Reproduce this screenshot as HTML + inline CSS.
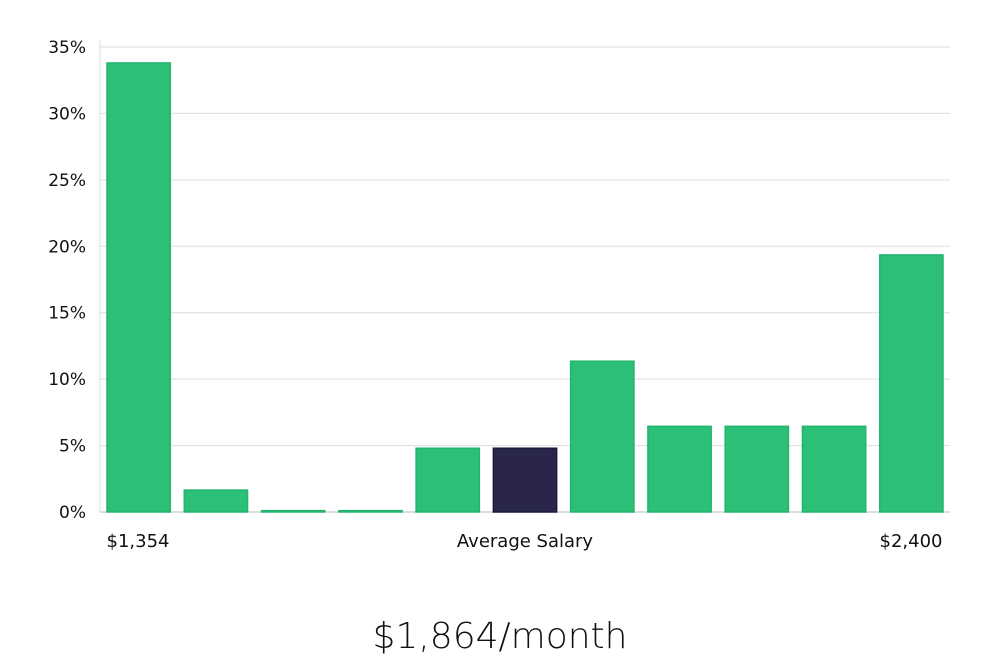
<!DOCTYPE html>
<html><head><meta charset="utf-8"><style>
body{margin:0;background:#fff;width:1000px;height:660px;overflow:hidden;font-family:"DejaVu Sans","Liberation Sans",sans-serif;}
</style></head><body>
<svg width="1000" height="660">
<g id="grid"></g><g id="bars"></g><g id="labels"></g>
<text x="500" y="648" text-anchor="middle" font-size="36" fill="#111" font-family="'DejaVu Sans','Liberation Sans',sans-serif" style="font-weight:300">$1,864/month</text>
</svg>
<script>
const categories=["b1","b2","b3","b4","b5","b6","b7","b8","b9","b10","b11"];
const values=[33.8,1.65,0.1,0.1,4.8,4.8,11.35,6.45,6.45,6.45,19.35];
const highlight=[false,false,false,false,false,true,false,false,false,false,false];
const ticks=[0,5,10,15,20,25,30,35];
const xLabels=["$1,354","Average Salary","$2,400"];
const NS="http://www.w3.org/2000/svg";
const x0=100,x1=950,yBase=512,yTop=47,vMax=35;
const y=v=>yBase-(v/vMax)*(yBase-yTop);
const step=(x1-x0)/categories.length;
const xb=i=>x0+i*step+7;
function mk(t,a,p){const e=document.createElementNS(NS,t);for(const k in a)e.setAttribute(k,a[k]);p.appendChild(e);return e;}
const g=document.getElementById('grid');
ticks.forEach(t=>{
  const l=mk('line',{x1:x0,x2:x1,y1:y(t),y2:y(t),stroke:t===0?'#bbb':'#ddd','stroke-width':1},g);
  
  
  const tx=mk('text',{x:86,y:y(t)+6,'text-anchor':'end','font-size':17,fill:'#111'},g);
  tx.textContent=t+'%';
  
  
});
const ax=mk('line',{x1:x0,x2:x0,y1:40,y2:yBase,stroke:'#ddd'},g);


const b=document.getElementById('bars');
values.forEach((v,i)=>{
  const r=mk('rect',{x:xb(i),y:y(v),width:step-14,height:yBase-y(v),fill:highlight[i]?'#29264a':'#2bbf77',stroke:highlight[i]?'#1c1a3a':'#22b56d','stroke-width':1.5},b);
  
  
});
const lg=document.getElementById('labels');
const pos=[[138,'middle'],[525,'middle'],[911,'middle']];
xLabels.forEach((s,i)=>{
  const t=mk('text',{x:pos[i][0],y:547,'text-anchor':pos[i][1],'font-size':18,fill:'#111'},lg);
  t.textContent=s;
  
  
});
</script>
</body></html>
